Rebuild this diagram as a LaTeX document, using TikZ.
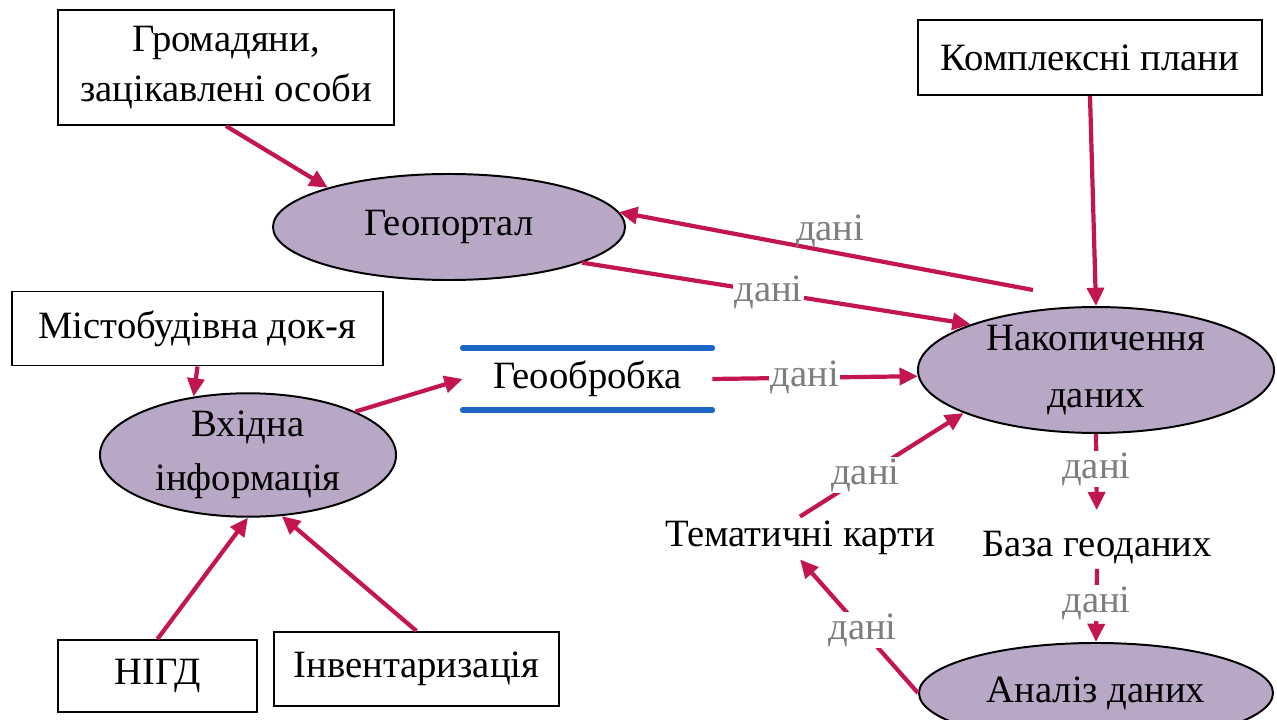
\documentclass[tikz,border=0pt]{standalone}
\usepackage{fontspec}
\setmainfont{Liberation Serif}
\usetikzlibrary{shapes.geometric,arrows.meta}
\definecolor{arrowred}{RGB}{196,22,78}
\definecolor{lilac}{RGB}{184,168,198}
\definecolor{geoblue}{RGB}{28,102,196}
\definecolor{labelgray}{RGB}{125,125,125}

\begin{document}
\begin{tikzpicture}[x=0.025cm,y=-0.025cm,font=\fontsize{27.5}{31}\selectfont]
            \tikzstyle{ellip}=[ellipse,draw=black,line width=1.4pt,fill=lilac,inner sep=0pt,align=center]
            \tikzstyle{box}=[rectangle,draw=black,line width=1.4pt,fill=white,inner sep=0pt,align=center]
            \tikzstyle{txt}=[inner sep=3pt]
            \tikzstyle{flow}=[draw=arrowred,line width=3pt,-{Triangle[length=13pt,width=12pt]}]
            \tikzstyle{dani}=[text=labelgray,fill=white,inner sep=1pt]
            \useasboundingbox (0,0) rectangle (1277,720);

                    \node[box,minimum width=8.4cm,minimum height=2.875cm] (citizens) at (226,67.5){Громадяни,\\[4pt]зацікавлені особи};
                    \node[box,minimum width=8.6cm,minimum height=1.875cm] (komplex) at (1090,57.5){Комплексні плани};
                    \node[box,minimum width=9.275cm,minimum height=1.85cm] (mist) at (197.5,328.5){Містобудівна док-я};
                    \node[box,minimum width=4.975cm,minimum height=1.8cm] (nigd) at (157.5,676){НІГД};
                    \node[box,minimum width=7.125cm,minimum height=1.85cm] (inv) at (416.5,669){Інвентаризація};

                    \node[ellip,minimum width=8.8cm,minimum height=2.65cm] (portal) at (449,227){Геопортал};
                    \node[ellip,minimum width=7.4cm,minimum height=2.9cm] (vhid) at (248,455){Вхідна\\[7pt]інформація};
                    \node[ellip,minimum width=8.9cm,minimum height=3.1cm] (nakop) at (1096,370){Накопичення\\[9pt]даних};
                    \node[ellip,minimum width=8.85cm,minimum height=2.5cm] (analiz) at (1096,693){Аналіз даних};

                    \node[minimum width=6.225cm,minimum height=1.55cm,inner sep=0pt] (geo) at (587.5,379){Геообробка};
                    \draw[geoblue,line width=4pt,line cap=round] (geo.north west) -- (geo.north east);
                    \draw[geoblue,line width=4pt,line cap=round] (geo.south west) -- (geo.south east);

                    \node[txt] (tema) at (800,538){Тематичні карти};
                    \node[txt] (baza) at (1097,548){База геоданих};
                    \coordinate (nakop-out) at (1033,290);

                \foreach \from/\to in {citizens.south/portal.162, komplex.south/nakop.north, mist.south/vhid.133, vhid.22/geo.west, nigd.north/vhid.south, inv.north/vhid.299}
                    \draw[flow] (\from) -- (\to);

                \draw[flow] (nakop-out) -- node[dani,fill=none,pos=0.49,above] {дані} (portal.5);
                \draw[flow] (portal.345) -- node[dani,pos=0.48] {дані} (nakop.160);
                \draw[flow] (geo.east) -- node[dani,pos=0.45] {дані} (nakop.182);
                \draw[flow] (tema.north) -- node[dani,pos=0.4] {дані} (nakop.198);
                \draw[flow,shorten >=12pt] (nakop.south) -- node[dani,pos=0.38] {дані} (baza.north);
                \draw[flow] (baza.south) -- node[dani,pos=0.47] {дані} (analiz.north);
                \draw[flow] (analiz.west) -- node[dani,pos=0.47] {дані} (tema.south);
        \end{tikzpicture}
\end{document}
